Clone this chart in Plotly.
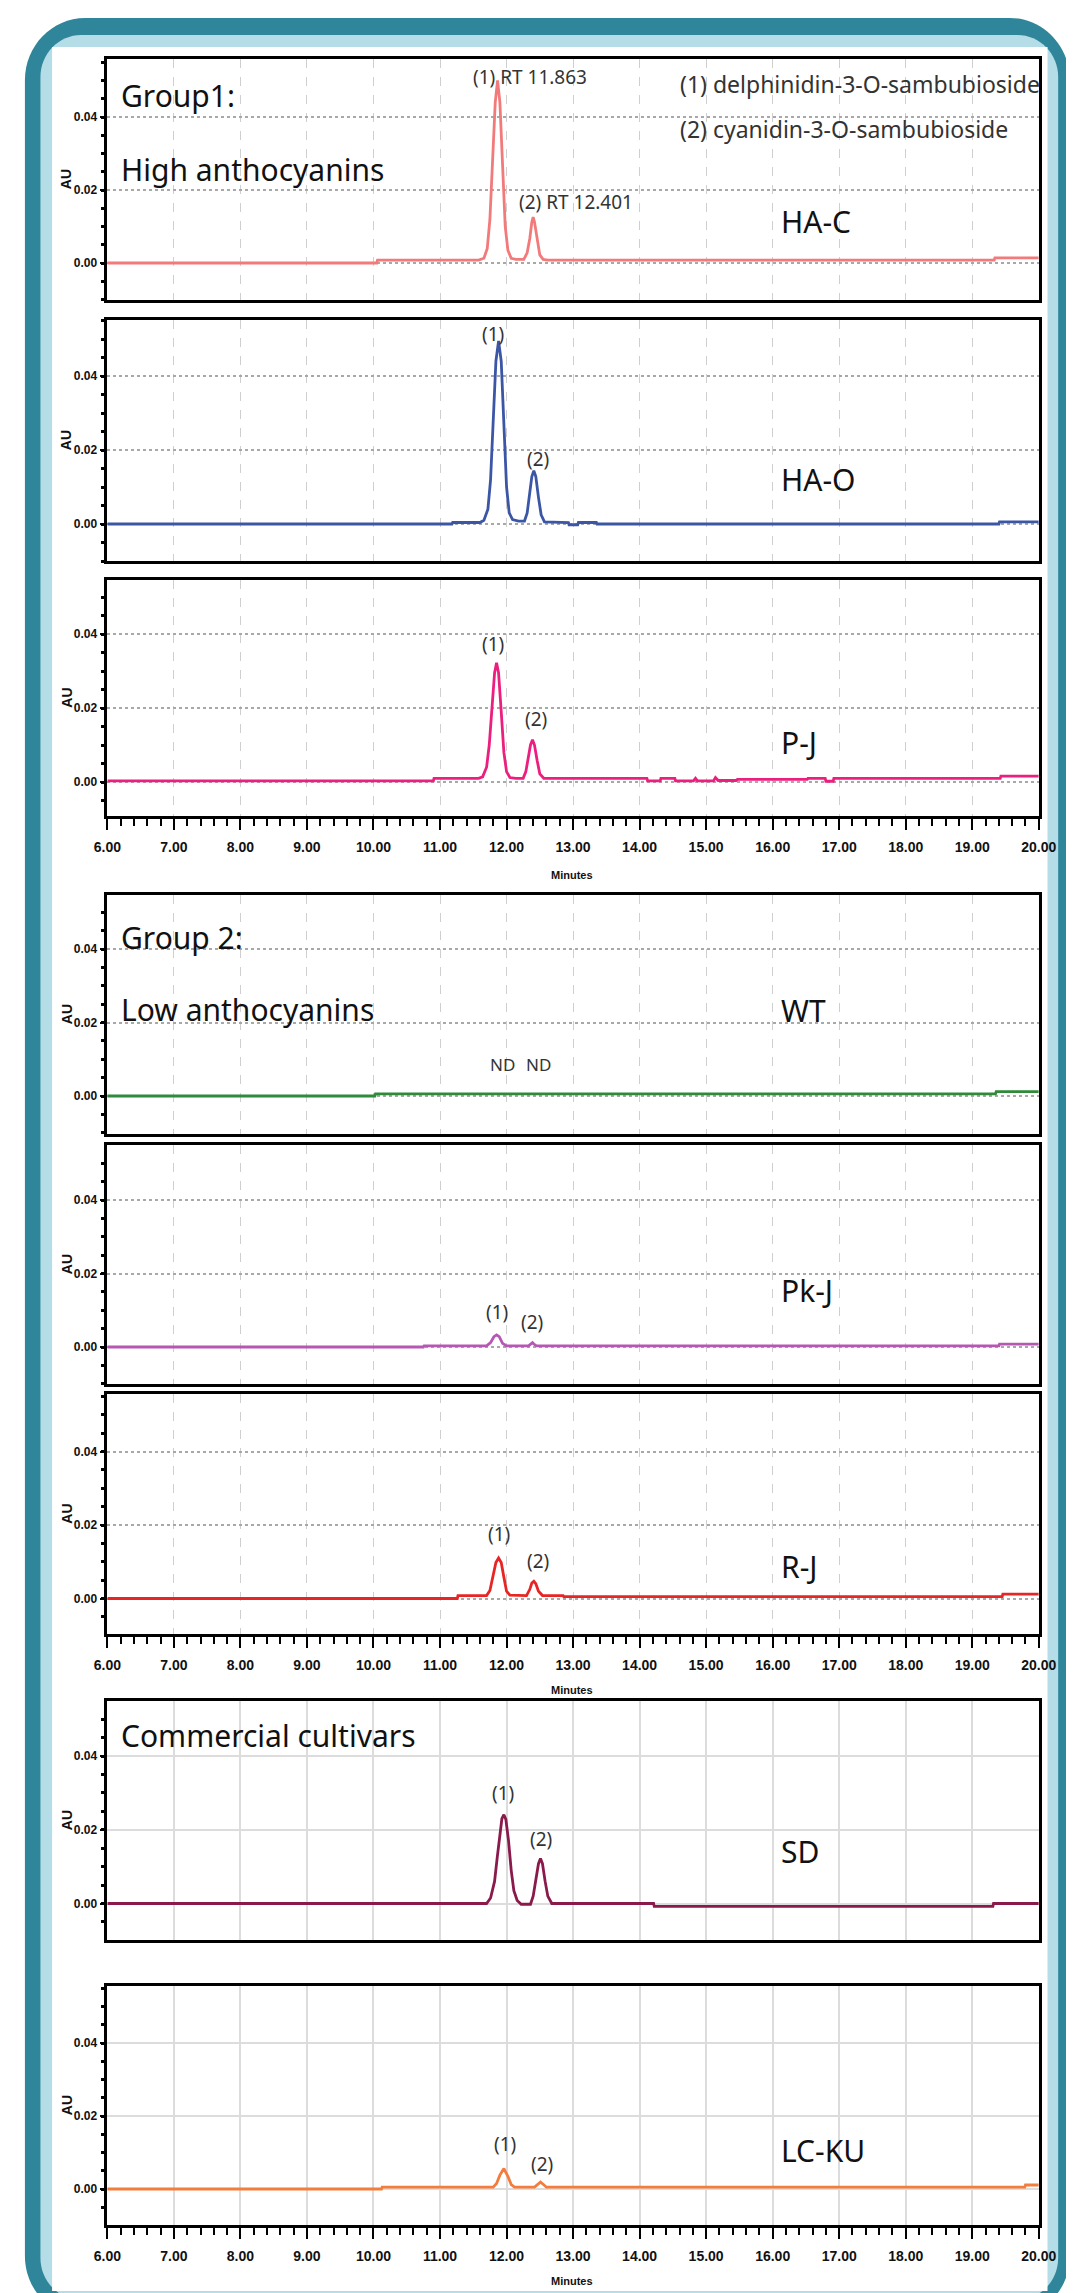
import plotly.graph_objects as go

# ---------------------------------------------------------------- data
SAMPLES = ["HA-C", "HA-O", "P-J", "WT", "Pk-J", "R-J", "SD", "LC-KU"]

HAC_MIN = [6.00, 10.05, 10.06, 11.58, 11.66, 11.71, 11.75, 11.79, 11.83, 11.865, 11.90, 11.94, 11.98, 12.02,
           12.07, 12.14, 12.26, 12.31, 12.35, 12.38, 12.40, 12.42, 12.46, 12.50, 12.55, 12.62, 19.33, 19.34, 20.00]
HAC_AU = [0.0000, 0.0000, 0.0008, 0.0008, 0.0013, 0.0040, 0.0120, 0.0270, 0.0440, 0.0500, 0.0440, 0.0270, 0.0100,
          0.0035, 0.0013, 0.0010, 0.0010, 0.0028, 0.0068, 0.0112, 0.0126, 0.0112, 0.0062, 0.0022, 0.0010, 0.0008,
          0.0008, 0.0014, 0.0014]

HAO_MIN = [6.00, 11.18, 11.19, 11.60, 11.66, 11.72, 11.76, 11.80, 11.84, 11.88, 11.92, 11.96, 12.00, 12.04, 12.09,
           12.18, 12.27, 12.31, 12.35, 12.38, 12.41, 12.44, 12.48, 12.52, 12.57, 12.93, 12.94, 13.07, 13.08, 13.35,
           13.36, 19.40, 19.41, 20.00]
HAO_AU = [0.0000, 0.0000, 0.0004, 0.0004, 0.0010, 0.0040, 0.0120, 0.0270, 0.0440, 0.0495, 0.0440, 0.0270, 0.0100,
          0.0030, 0.0012, 0.0008, 0.0008, 0.0030, 0.0080, 0.0128, 0.0144, 0.0128, 0.0072, 0.0025, 0.0006, 0.0004,
          -0.0002, -0.0002, 0.0004, 0.0004, 0.0000, 0.0000, 0.0006, 0.0006]

PJ_MIN = [6.00, 10.90, 10.91, 11.58, 11.64, 11.70, 11.74, 11.78, 11.82, 11.85, 11.88, 11.92, 11.96, 12.00, 12.05,
          12.14, 12.25, 12.29, 12.33, 12.36, 12.39, 12.42, 12.46, 12.50, 12.56, 14.11, 14.12, 14.31, 14.32, 14.53,
          14.54, 14.81, 14.84, 14.87, 15.11, 15.14, 15.18, 15.45, 15.47, 16.52, 16.53, 16.79, 16.80, 16.91, 16.92,
          19.42, 19.43, 20.00]
PJ_AU = [0.0003, 0.0003, 0.0010, 0.0010, 0.0014, 0.0040, 0.0100, 0.0200, 0.0295, 0.0322, 0.0295, 0.0190, 0.0080,
         0.0028, 0.0012, 0.0010, 0.0010, 0.0028, 0.0068, 0.0100, 0.0114, 0.0100, 0.0058, 0.0022, 0.0010, 0.0010,
         0.0003, 0.0003, 0.0010, 0.0010, 0.0003, 0.0003, 0.0010, 0.0003, 0.0003, 0.0012, 0.0004, 0.0004, 0.0007,
         0.0007, 0.0010, 0.0010, 0.0002, 0.0002, 0.0010, 0.0010, 0.0016, 0.0016]

WT_MIN = [6.00, 10.02, 10.03, 19.35, 19.36, 20.00]
WT_AU = [0.0000, 0.0000, 0.0006, 0.0006, 0.0012, 0.0012]

PKJ_MIN = [6.00, 10.75, 10.76, 11.70, 11.76, 11.81, 11.85, 11.89, 11.94, 12.00, 12.33, 12.37, 12.39, 12.41, 12.45,
           19.40, 19.41, 20.00]
PKJ_AU = [0.0000, 0.0000, 0.0003, 0.0003, 0.0012, 0.0028, 0.0033, 0.0028, 0.0010, 0.0003, 0.0003, 0.0008, 0.0012,
          0.0008, 0.0003, 0.0003, 0.0008, 0.0008]

RJ_MIN = [6.00, 11.26, 11.27, 11.70, 11.75, 11.80, 11.84, 11.88, 11.92, 11.96, 12.00, 12.05, 12.30, 12.35, 12.38,
          12.41, 12.44, 12.48, 12.54, 12.85, 12.86, 19.45, 19.46, 20.00]
RJ_AU = [0.0000, 0.0000, 0.0008, 0.0008, 0.0022, 0.0060, 0.0098, 0.0110, 0.0098, 0.0058, 0.0020, 0.0009, 0.0008,
         0.0025, 0.0042, 0.0047, 0.0040, 0.0020, 0.0008, 0.0008, 0.0005, 0.0005, 0.0012, 0.0012]

SD_MIN = [6.00, 11.70, 11.76, 11.82, 11.86, 11.90, 11.93, 11.96, 11.99, 12.03, 12.07, 12.11, 12.16, 12.22, 12.36,
          12.40, 12.44, 12.48, 12.51, 12.54, 12.58, 12.62, 12.68, 14.21, 14.22, 19.31, 19.32, 20.00]
SD_AU = [0.0000, 0.0000, 0.0015, 0.0060, 0.0125, 0.0195, 0.0230, 0.0241, 0.0228, 0.0170, 0.0090, 0.0035, 0.0008,
         -0.0002, -0.0002, 0.0020, 0.0060, 0.0108, 0.0122, 0.0108, 0.0060, 0.0020, 0.0000, 0.0000, -0.0008, -0.0008,
         0.0000, 0.0000]

LCKU_MIN = [6.00, 10.12, 10.13, 11.80, 11.85, 11.90, 11.96, 12.02, 12.07, 12.12, 12.42, 12.47, 12.51, 12.55, 12.60,
            19.79, 19.80, 20.00]
LCKU_AU = [0.0000, 0.0000, 0.0005, 0.0005, 0.0015, 0.0038, 0.0056, 0.0035, 0.0012, 0.0005, 0.0005, 0.0014, 0.0019,
           0.0013, 0.0005, 0.0005, 0.0011, 0.0011]

SERIES_MIN = [HAC_MIN, HAO_MIN, PJ_MIN, WT_MIN, PKJ_MIN, RJ_MIN, SD_MIN, LCKU_MIN]
SERIES_AU = [HAC_AU, HAO_AU, PJ_AU, WT_AU, PKJ_AU, RJ_AU, SD_AU, LCKU_AU]

X_TICK_VALUES = [6, 7, 8, 9, 10, 11, 12, 13, 14, 15, 16, 17, 18, 19, 20]
X_TICK_LABELS = ["6.00", "7.00", "8.00", "9.00", "10.00", "11.00", "12.00", "13.00", "14.00",
                 "15.00", "16.00", "17.00", "18.00", "19.00", "20.00"]
Y_TICK_VALUES = [0.0, 0.02, 0.04]
Y_TICK_LABELS = ["0.00", "0.02", "0.04"]

LEGEND_LINES = ["(1) delphinidin-3-O-sambubioside", "(2) cyanidin-3-O-sambubioside"]
GROUP_TEXTS = {0: ["Group1:", "High anthocyanins"], 3: ["Group 2:", "Low anthocyanins"],
               6: ["Commercial cultivars"]}

# ---------------------------------------------------------------- styles / geometry
COLORS = ["#f27a7a", "#3c56a6", "#ec1f7f", "#2f8a3a", "#b657b4", "#e82525", "#8a1a4c", "#f27d3c"]
W, H = 1074, 2293
# panel pixel geometry: (top, bottom, zero-line pixel, px per AU)
PANELS = [(51, 292, 255, 3650), (312, 553, 516, 3700), (572, 808, 774, 3700), (887, 1126, 1088, 3675),
          (1137, 1376, 1339, 3675), (1386, 1626, 1590.5, 3675), (1693, 1932, 1895.5, 3685),
          (1978, 2217, 2181, 3650)]
X_LEFT, X_RIGHT = 88, 1048
MINUTES_Y = {2: 867, 5: 1682, 7: 2273}  # panels with x tick labels -> "Minutes" y pixel
SAMPLE_LABEL_Y = [0.0114, 0.0120, 0.0106, 0.0232, 0.0155, 0.0086, 0.0140, 0.0105]
GROUP_Y = {0: [0.0458, 0.0256], 3: [0.0432, 0.0236], 6: [0.0455]}
PEAK_LABELS = {
    1: [("(1)", 11.79, 0.0513), ("(2)", 12.47, 0.0176)],
    2: [("(1)", 11.79, 0.0372), ("(2)", 12.45, 0.0170)],
    3: [("ND", 11.94, 0.0086), ("ND", 12.48, 0.0086)],
    4: [("(1)", 11.85, 0.0095), ("(2)", 12.39, 0.0067)],
    5: [("(1)", 11.88, 0.0175), ("(2)", 12.47, 0.0101)],
    6: [("(1)", 11.95, 0.0300), ("(2)", 12.52, 0.0175)],
    7: [("(1)", 11.98, 0.0124), ("(2)", 12.54, 0.0069)],
}

SANS = "Noto Sans"
ARIAL = "Liberation Sans"
TEXT_FONT = dict(family=SANS, size=30, color="#111111")


def px(x):
    return x / W


def py(y):
    return 1 - y / H


def rrect(x0, y0, x1, y1, r):
    k = 0.45
    pts = [
        ("M", [(x0 + r, y0)]), ("L", [(x1 - r, y0)]),
        ("C", [(x1 - r * k, y0), (x1, y0 + r * k), (x1, y0 + r)]),
        ("L", [(x1, y1 - r)]),
        ("C", [(x1, y1 - r * k), (x1 - r * k, y1), (x1 - r, y1)]),
        ("L", [(x0 + r, y1)]),
        ("C", [(x0 + r * k, y1), (x0, y1 - r * k), (x0, y1 - r)]),
        ("L", [(x0, y0 + r)]),
        ("C", [(x0, y0 + r * k), (x0 + r * k, y0), (x0 + r, y0)]),
    ]
    s = ""
    for cmd, ps in pts:
        s += cmd + " " + " ".join(f"{px(a):.6f},{py(b):.6f}" for a, b in ps) + " "
    return s + "Z"


fig = go.Figure()
layout = dict(
    width=W, height=H, autosize=False,
    margin=dict(l=0, r=0, t=0, b=0),
    paper_bgcolor="white", plot_bgcolor="white",
    showlegend=False,
    shapes=[
        dict(type="path", xref="paper", yref="paper", path=rrect(3, 10, 1080, 2310, 62),
             fillcolor="#2f8599", line=dict(width=0), layer="below"),
        dict(type="path", xref="paper", yref="paper", path=rrect(19, 27, 1068, 2292, 42),
             fillcolor="#b5dde7", line=dict(width=0), layer="below"),
        dict(type="rect", xref="paper", yref="paper", x0=px(31), x1=px(1057), y0=py(2283), y1=py(39),
             fillcolor="white", line=dict(width=0), layer="below"),
    ],
)
annotations = []

for i in range(8):
    top, bot, zero, ppu = PANELS[i]
    ymax = (zero - top) / ppu
    ymin = -(bot - zero) / ppu
    xs = "" if i == 0 else str(i + 1)
    solid = i >= 6
    fig.add_trace(go.Scatter(
        x=SERIES_MIN[i], y=SERIES_AU[i], mode="lines",
        line=dict(color=COLORS[i], width=2.8), xaxis="x" + xs, yaxis="y" + xs,
        hoverinfo="skip"))
    has_lab = i in MINUTES_Y
    xa = dict(
        domain=[px(X_LEFT), px(X_RIGHT)], anchor="y" + xs, range=[6, 20],
        tickmode="array", tickvals=X_TICK_VALUES, ticktext=X_TICK_LABELS,
        showticklabels=has_lab, ticks="outside" if has_lab else "",
        ticklen=11, tickwidth=2, tickcolor="black",
        tickfont=dict(family=ARIAL, size=14, color="#111111", weight="bold"),
        ticklabelstandoff=5,
        showline=True, mirror=True, linecolor="black", linewidth=2.5,
        showgrid=True, gridcolor="#dcdcdc" if solid else "#cfcfcf",
        griddash="solid" if solid else "dash", gridwidth=2 if solid else 1,
        zeroline=False, fixedrange=True,
    )
    if has_lab:
        xa["minor"] = dict(dtick=0.2, tick0=6, ticks="outside", ticklen=7, tickwidth=2,
                           tickcolor="black", showgrid=False)
    ya = dict(
        domain=[py(bot), py(top)], anchor="x" + xs, range=[ymin, ymax],
        tickmode="array", tickvals=Y_TICK_VALUES, ticktext=Y_TICK_LABELS,
        ticks="outside", ticklen=5, tickwidth=2, tickcolor="black",
        tickfont=dict(family=ARIAL, size=12, color="#111111", weight="bold"),
        minor=dict(dtick=0.005, tick0=0, ticks="outside", ticklen=4, tickwidth=2.5,
                   tickcolor="black", showgrid=False),
        showline=True, mirror=True, linecolor="black", linewidth=2.5,
        showgrid=True, gridcolor="#dcdcdc" if solid else "#a8a8a8",
        griddash="solid" if solid else "dot", gridwidth=2 if solid else 1.5,
        zeroline=False, fixedrange=True,
    )
    layout["xaxis" + xs] = xa
    layout["yaxis" + xs] = ya

    # AU axis title
    annotations.append(dict(text="<b>AU</b>", xref="paper", yref="paper", x=px(46), y=py((top + bot) / 2),
                            textangle=-90, showarrow=False,
                            font=dict(family=ARIAL, size=14, color="#111111"),
                            xanchor="center", yanchor="middle"))
    # sample label
    annotations.append(dict(text=SAMPLES[i], xref="x" + xs, yref="y" + xs, x=16.1, y=SAMPLE_LABEL_Y[i],
                            showarrow=False, xanchor="left", yanchor="middle", font=TEXT_FONT))
    # group labels
    if i in GROUP_TEXTS:
        for txt, yy in zip(GROUP_TEXTS[i], GROUP_Y[i]):
            annotations.append(dict(text=txt, xref="x" + xs, yref="y" + xs, x=6.18, y=yy,
                                    showarrow=False, xanchor="left", yanchor="middle", font=TEXT_FONT))
    # peak labels
    for txt, xx, yy in PEAK_LABELS.get(i, []):
        annotations.append(dict(text=txt, xref="x" + xs, yref="y" + xs, x=xx, y=yy, showarrow=False,
                                xanchor="center", yanchor="middle",
                                font=dict(family=SANS, size=19 if txt != "ND" else 17, color="#333333")))
    if has_lab:
        annotations.append(dict(text="<b>Minutes</b>", xref="paper", yref="paper", x=px(567),
                                y=py(MINUTES_Y[i]), showarrow=False, xanchor="center", yanchor="middle",
                                font=dict(family=ARIAL, size=11, color="#111111")))

# panel-1 retention-time labels and compound legend
annotations.append(dict(text="(1) RT 11.863", xref="x", yref="y", x=11.47, y=0.0510, showarrow=False,
                        xanchor="left", yanchor="middle", font=dict(family=SANS, size=19, color="#333333")))
annotations.append(dict(text="(2) RT 12.401", xref="x", yref="y", x=12.16, y=0.0168, showarrow=False,
                        xanchor="left", yanchor="middle", font=dict(family=SANS, size=19, color="#333333")))
for txt, yy in zip(LEGEND_LINES, [0.0490, 0.0367]):
    annotations.append(dict(text=txt, xref="x", yref="y", x=14.58, y=yy, showarrow=False,
                            xanchor="left", yanchor="middle",
                            font=dict(family=SANS, size=23, color="#333333")))

layout["annotations"] = annotations
fig.update_layout(**layout)
fig.write_html("out.html", config={"displayModeBar": False})
